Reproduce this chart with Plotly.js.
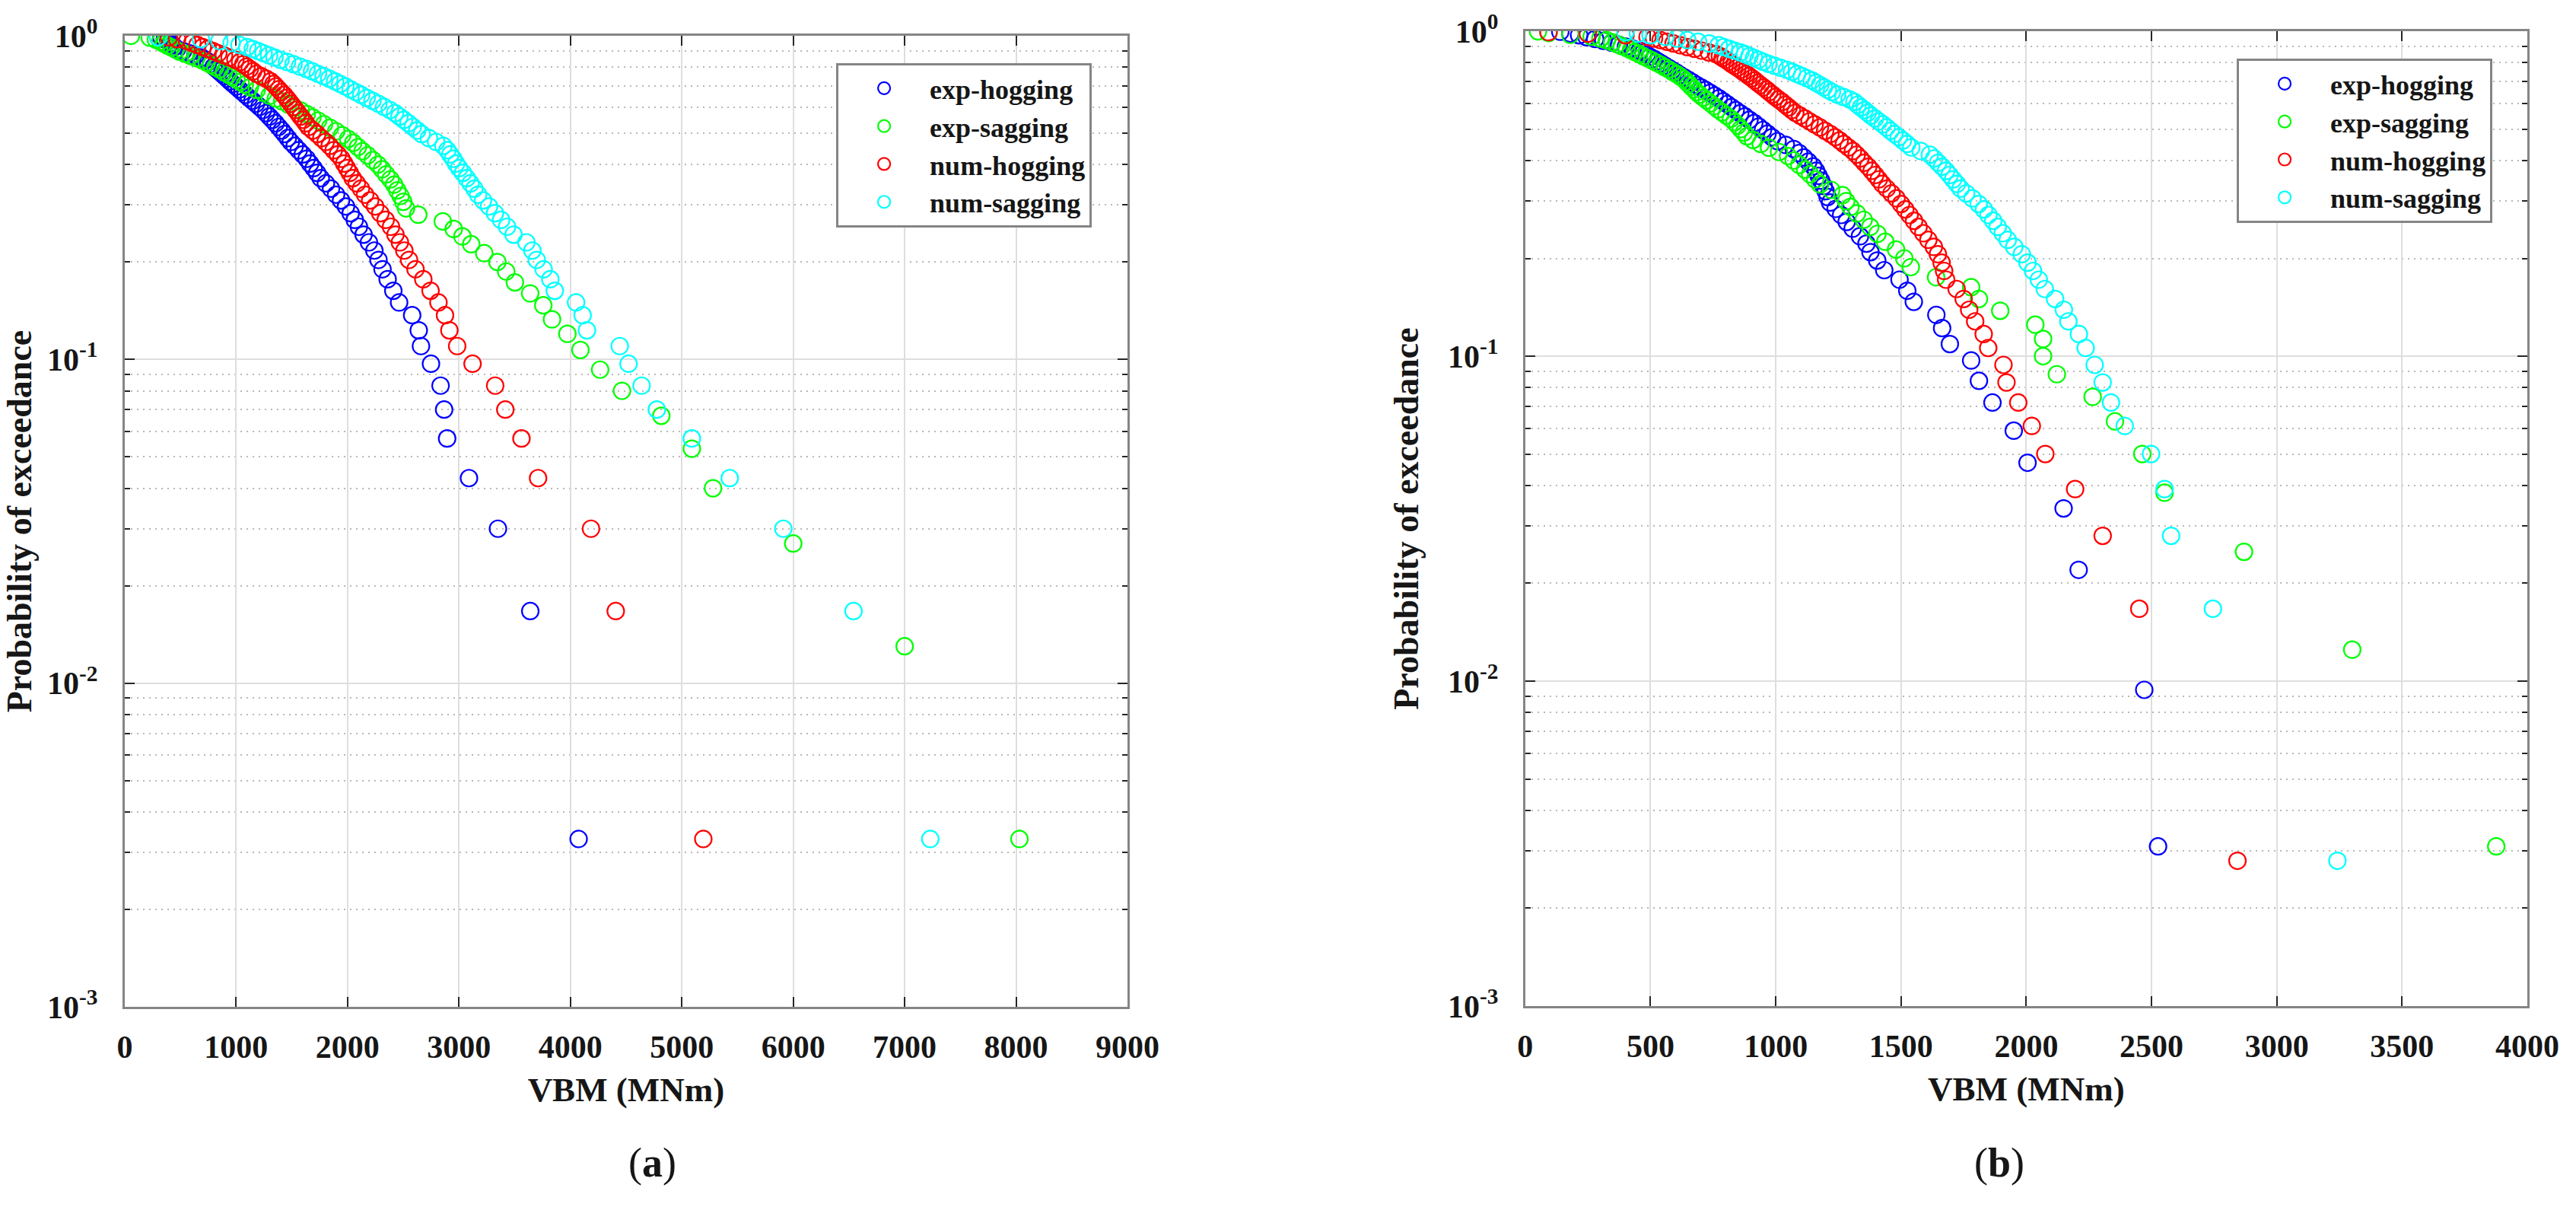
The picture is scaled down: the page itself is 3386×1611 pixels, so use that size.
<!DOCTYPE html>
<html>
<head>
<meta charset="utf-8">
<script src="https://cdn.plot.ly/plotly-3.0.1.min.js"></script>
<style>
  html, body { margin: 0; padding: 0; background: #fff; }
  #chart { width: 3386px; height: 1611px; }
</style>
</head>
<body>
<div id="chart"></div>
<script>
// ---- panel (a): probability levels ----
let probA = [0.990,0.977,0.963,0.950,0.937,0.923,0.910,0.897,0.883,0.870,
  0.857,0.843,0.830,0.817,0.803,0.790,0.777,0.763,0.750,0.737,
  0.723,0.710,0.697,0.683,0.670,0.657,0.643,0.630,0.617,0.603,
  0.590,0.577,0.563,0.550,0.537,0.523,0.510,0.497,0.483,0.470,
  0.457,0.443,0.430,0.417,0.403,0.390,0.377,0.363,0.350,0.337,
  0.323,0.310,0.297,0.283,0.270,0.257,0.243,0.230,0.217,0.203,
  0.190,0.177,0.163,0.150,0.137,0.123,0.110,0.097,0.083,0.070,
  0.057,0.043,0.030,0.0167,0.0033];
let probASag = [1.000,0.987,0.973,0.960,0.947,0.933,0.920,0.907,0.893,0.880,
  0.867,0.853,0.840,0.827,0.813,0.800,0.787,0.773,0.760,0.747,
  0.733,0.720,0.707,0.693,0.680,0.667,0.653,0.640,0.627,0.613,
  0.600,0.587,0.573,0.560,0.547,0.533,0.520,0.507,0.493,0.480,
  0.467,0.453,0.440,0.427,0.413,0.400,0.387,0.373,0.360,0.347,
  0.333,0.320,0.307,0.293,0.280,0.267,0.253,0.240,0.227,0.213,
  0.200,0.187,0.173,0.160,0.147,0.133,0.120,0.107,0.093,0.080,
  0.067,0.053,0.040,0.027,0.013,0.0033];

let expHogA = [330,360,390,410,430,445,469,524,579,634,
  690,725,750,774,799,824,848,873,897,922,
  947,972,1000,1029,1057,1085,1116,1147,1178,1210,
  1241,1269,1298,1326,1354,1382,1409,1436,1464,1491,
  1526,1562,1598,1633,1664,1696,1727,1760,1806,1852,
  1897,1942,1986,2028,2065,2102,2144,2192,2241,2278,
  2314,2360,2411,2463,2580,2639,2659,2749,2835,2867,
  2894,3090,3350,3640,4074];
let expSagA = [56,225,280,320,350,385,421,457,493,542,
  592,643,694,736,775,814,852,891,929,966,
  1003,1040,1077,1123,1185,1245,1301,1357,1413,1469,
  1525,1581,1634,1685,1736,1789,1843,1898,1952,2006,
  2051,2093,2135,2181,2227,2273,2310,2347,2385,2418,
  2447,2476,2500,2525,2635,2855,2953,3031,3110,3227,
  3345,3424,3502,3639,3757,3835,3973,4090,4267,4463,
  4816,5090,5280,6000,7000,8030];
let numHogA = [396,470,560,607,653,700,746,792,840,891,
  942,994,1036,1065,1094,1123,1152,1182,1226,1270,
  1311,1335,1358,1382,1405,1429,1451,1472,1493,1514,
  1534,1556,1579,1603,1626,1649,1688,1727,1765,1804,
  1840,1876,1913,1945,1970,1995,2020,2047,2083,2120,
  2158,2203,2248,2294,2342,2390,2430,2470,2510,2552,
  2610,2680,2745,2816,2875,2914,2984,3122,3325,3416,
  3561,3710,4185,4407,5193];
let numSagA = [300,683,850,960,1030,1100,1149,1198,1247,1296,
  1345,1399,1457,1515,1573,1631,1682,1734,1785,1836,
  1888,1934,1981,2028,2075,2122,2172,2224,2276,2328,
  2380,2426,2466,2506,2546,2586,2626,2666,2730,2795,
  2860,2896,2922,2948,2974,3002,3036,3070,3104,3138,
  3172,3216,3270,3323,3378,3432,3490,3605,3659,3698,
  3760,3820,3860,4051,4110,4149,4443,4522,4639,4776,
  5090,5430,5911,6541,7230];

// ---- panel (b) ----
let probBExpHog = [0.997,0.984,0.972,0.959,0.947,0.934,0.922,0.909,0.897,0.884,
  0.872,0.859,0.847,0.834,0.822,0.809,0.797,0.784,0.772,0.759,
  0.747,0.734,0.722,0.709,0.697,0.684,0.672,0.659,0.647,0.634,
  0.622,0.609,0.597,0.584,0.572,0.559,0.547,0.534,0.522,0.509,
  0.497,0.484,0.472,0.459,0.447,0.434,0.422,0.409,0.397,0.384,
  0.372,0.359,0.347,0.334,0.322,0.309,0.297,0.284,0.272,0.259,
  0.247,0.234,0.222,0.209,0.197,0.184,0.172,0.159,0.147,0.134,
  0.122,0.109,0.097,0.084,0.072,0.059,0.047,0.034,0.022,0.0094,
  0.0031];
let probBExpSag = [1.000,0.988,0.975,0.963,0.950,0.938,0.925,0.913,0.900,0.888,
  0.875,0.863,0.850,0.838,0.825,0.813,0.800,0.788,0.775,0.763,
  0.750,0.738,0.725,0.713,0.700,0.688,0.675,0.663,0.650,0.638,
  0.625,0.613,0.600,0.588,0.575,0.563,0.550,0.538,0.525,0.513,
  0.500,0.488,0.475,0.463,0.450,0.438,0.425,0.413,0.400,0.388,
  0.375,0.363,0.350,0.338,0.325,0.313,0.300,0.288,0.275,0.263,
  0.250,0.238,0.225,0.213,0.200,0.188,0.175,0.163,0.150,0.138,
  0.125,0.113,0.100,0.088,0.075,0.063,0.050,0.038,0.025,0.0125,
  0.0031];
let probBNum = [0.994,0.983,0.972,0.961,0.950,0.939,0.928,0.917,0.906,0.894,
  0.883,0.872,0.861,0.850,0.839,0.828,0.817,0.806,0.794,0.783,
  0.772,0.761,0.750,0.739,0.728,0.717,0.706,0.694,0.683,0.672,
  0.661,0.650,0.639,0.628,0.617,0.606,0.594,0.583,0.572,0.561,
  0.550,0.539,0.528,0.517,0.506,0.494,0.483,0.472,0.461,0.450,
  0.439,0.428,0.417,0.406,0.394,0.383,0.372,0.361,0.350,0.339,
  0.328,0.317,0.306,0.294,0.283,0.272,0.261,0.250,0.239,0.228,
  0.217,0.206,0.194,0.183,0.172,0.161,0.150,0.139,0.128,0.117,
  0.106,0.094,0.083,0.072,0.061,0.050,0.039,0.028,0.0167,0.0028];

let expHogB = [140,180,215,245,279,312,346,374,402,429,
  457,471,485,499,514,528,542,557,572,587,
  602,617,634,651,667,684,702,720,738,756,
  773,790,806,823,840,858,877,895,914,932,
  949,967,985,1007,1040,1072,1093,1112,1130,1149,
  1161,1171,1181,1191,1199,1207,1217,1239,1261,1283,
  1307,1336,1362,1378,1405,1433,1494,1525,1551,1641,
  1664,1695,1780,1811,1865,1950,2005,2149,2209,2471,
  2526];
let expSagB = [51,93,180,265,300,326,347,366,385,405,
  422,438,455,471,489,506,524,541,557,573,
  588,604,619,632,643,653,663,674,684,696,
  711,725,740,754,769,786,803,821,835,848,
  860,873,885,909,940,973,1013,1049,1072,1094,
  1117,1137,1157,1177,1221,1266,1281,1298,1324,1351,
  1377,1406,1437,1480,1513,1539,1640,1780,1811,1896,
  2036,2067,2067,2122,2265,2354,2463,2552,2869,3301,
  3876];
let numHogB = [93,250,400,488,514,540,566,592,619,647,
  676,704,733,762,777,788,800,812,823,835,
  847,859,870,882,893,905,916,927,939,951,
  963,974,986,998,1011,1025,1038,1051,1064,1078,
  1097,1116,1135,1155,1176,1197,1218,1237,1255,1272,
  1290,1308,1323,1338,1353,1369,1383,1397,1411,1425,
  1443,1462,1482,1500,1517,1534,1552,1570,1589,1609,
  1631,1647,1662,1672,1680,1722,1750,1772,1796,1830,
  1848,1909,1921,1968,2022,2076,2195,2305,2451,2843];
let numSagB = [400,450,500,560,605,647,690,734,772,793,
  814,836,859,877,895,913,931,949,971,995,
  1019,1045,1065,1085,1104,1124,1144,1161,1177,1192,
  1208,1224,1245,1270,1295,1314,1327,1340,1354,1367,
  1380,1396,1411,1427,1442,1458,1474,1491,1507,1524,
  1541,1579,1615,1632,1648,1664,1680,1694,1708,1723,
  1738,1760,1785,1810,1831,1849,1868,1886,1906,1926,
  1952,1982,2005,2027,2050,2074,2115,2150,2168,2210,
  2237,2273,2305,2338,2393,2498,2552,2578,2745,3242];

let seriesNames = ['exp-hogging', 'exp-sagging', 'num-hogging', 'num-sagging'];
let seriesColors = ['#0000ff', '#00ff00', '#ff0000', '#00ffff'];

let yTickVals = [0.001, 0.01, 0.1, 1];
let yTickText = ['10<sup>-3</sup>', '10<sup>-2</sup>', '10<sup>-1</sup>', '10<sup>0</sup>'];

let serif = '"Liberation Serif", "Times New Roman", serif';
let ink = '#161616';

function makeTrace(x, y, i, xa, ya, legend) {
  return {
    x: x, y: y,
    name: seriesNames[i],
    type: 'scatter',
    mode: 'markers',
    xaxis: xa, yaxis: ya,
    legend: legend,
    marker: {
      symbol: 'circle-open',
      size: 22,
      color: seriesColors[i],
      line: { width: 2.2, color: seriesColors[i] }
    },
    hoverinfo: 'skip'
  };
}

function xAxis(domain, max, step, anchor) {
  return {
    domain: domain, anchor: anchor,
    range: [0, max], tick0: 0, dtick: step,
    showline: true, linecolor: '#858585', linewidth: 3, mirror: 'ticks',
    ticks: 'inside', ticklen: 13, tickwidth: 2, tickcolor: '#262626',
    showgrid: true, gridcolor: '#dedede', gridwidth: 2,
    zeroline: false,
    tickfont: { family: serif, size: 42, color: ink, weight: 'bold' },
    ticklabelstandoff: 14,
    title: { text: 'VBM (MNm)', standoff: 18,
      font: { family: serif, size: 45, color: ink, weight: 'bold' } }
  };
}

function yAxis(domain, anchor) {
  return {
    domain: domain, anchor: anchor,
    type: 'log', range: [-3, 0],
    tickmode: 'array', tickvals: yTickVals, ticktext: yTickText,
    showline: true, linecolor: '#858585', linewidth: 3, mirror: 'ticks',
    ticks: 'inside', ticklen: 13, tickwidth: 2, tickcolor: '#262626',
    showgrid: true, gridcolor: '#dedede', gridwidth: 2,
    zeroline: false,
    minor: {
      dtick: 'D1', showgrid: true, griddash: '2px,6px',
      gridcolor: '#b8b8b8', gridwidth: 2,
      ticks: 'inside', ticklen: 7, tickwidth: 2, tickcolor: '#262626'
    },
    tickfont: { family: serif, size: 42, color: ink, weight: 'bold' },
    ticklabelstandoff: 24,
    title: { text: 'Probability of exceedance', standoff: 24,
      font: { family: serif, size: 46, color: ink, weight: 'bold' } }
  };
}

function legendBox(x, y) {
  return {
    x: x, y: y, xanchor: 'left', yanchor: 'top',
    xref: 'paper', yref: 'paper',
    bgcolor: '#ffffff', bordercolor: '#858585', borderwidth: 3,
    font: { family: serif, size: 36, color: ink, weight: 'bold' },
    itemwidth: 110, tracegroupgap: 0
  };
}

let data = [
  makeTrace(expHogA, probA, 0, 'x', 'y', 'legend'),
  makeTrace(expSagA, probASag, 1, 'x', 'y', 'legend'),
  makeTrace(numHogA, probA, 2, 'x', 'y', 'legend'),
  makeTrace(numSagA, probA, 3, 'x', 'y', 'legend'),
  makeTrace(expHogB, probBExpHog, 0, 'x2', 'y2', 'legend2'),
  makeTrace(expSagB, probBExpSag, 1, 'x2', 'y2', 'legend2'),
  makeTrace(numHogB, probBNum, 2, 'x2', 'y2', 'legend2'),
  makeTrace(numSagB, probBNum, 3, 'x2', 'y2', 'legend2')
];

let layout = {
  width: 3386, height: 1611,
  margin: { l: 0, r: 0, t: 0, b: 0 },
  paper_bgcolor: '#ffffff', plot_bgcolor: '#ffffff',
  showlegend: true,
  xaxis: xAxis([0.0484, 0.4377], 9000, 1000, 'y'),
  yaxis: yAxis([0.1788, 0.9708], 'x'),
  xaxis2: xAxis([0.5921, 0.9811], 4000, 500, 'y2'),
  yaxis2: yAxis([0.1794, 0.9745], 'x2'),
  legend: legendBox(0.3246, 0.9485),
  legend2: legendBox(0.8683, 0.9522),
  annotations: [
    { text: '(<b>a</b>)', x: 0.2434, y: 0.0317, xref: 'paper', yref: 'paper',
      showarrow: false, font: { family: serif, size: 54, color: ink } },
    { text: '(<b>b</b>)', x: 0.7865, y: 0.0317, xref: 'paper', yref: 'paper',
      showarrow: false, font: { family: serif, size: 54, color: ink } }
  ]
};

Plotly.newPlot('chart', data, layout, { staticPlot: true, displayModeBar: false });
</script>
</body>
</html>
